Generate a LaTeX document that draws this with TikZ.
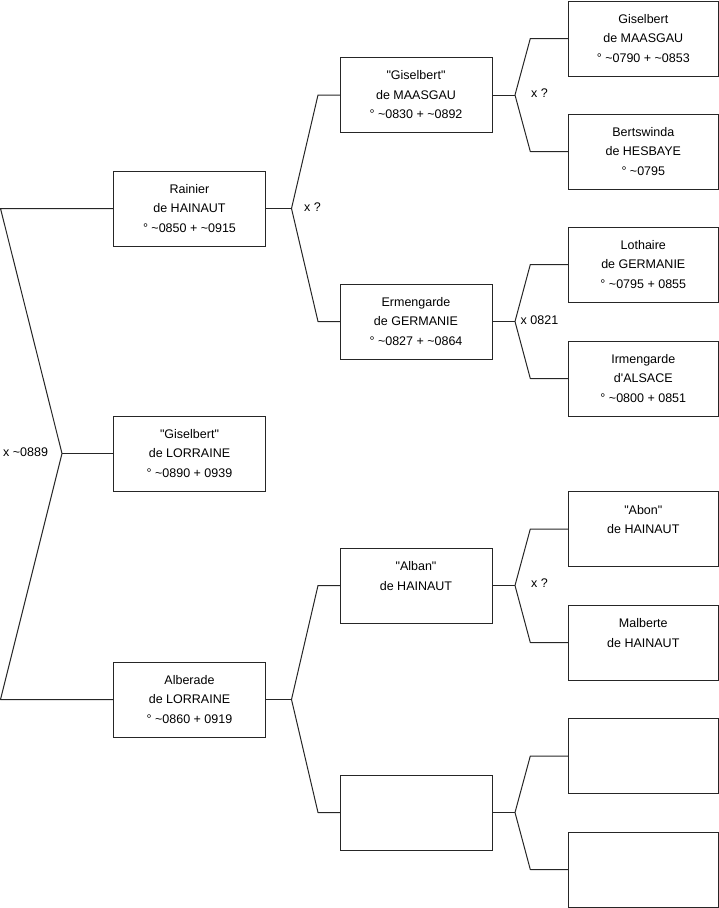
\documentclass[tikz,border=0pt]{standalone}
\usepackage{fontspec}
\setmainfont{Liberation Sans}
\begin{document}
\begin{tikzpicture}[x=1pt,y=-1pt,
  person/.style={draw=black!85, line width=1pt, fill=white, minimum height=75pt, inner sep=0pt, outer sep=0pt, align=center, font=\fontsize{12.5}{19.5}\selectfont},
  lvA/.style={person, minimum width=152pt},
  lvC/.style={person, minimum width=150pt},
  link/.style={draw=black!85, line width=1pt, line join=round},
  lbl/.style={anchor=west, inner sep=0pt, font=\fontsize{12.5}{15}\selectfont}]
\useasboundingbox (0,0) rectangle (719,908);
\newcommand{\tl}{\textasciitilde}
\newcommand{\qq}{\textquotedbl}
\newcommand{\blankline}{\\\mbox{}}
% level 1
\node[lvA] (r)  at (189.5,208.5) {Rainier\\de HAINAUT\\° \tl0850 + \tl0915};
\node[lvA] (gl) at (189.5,453.5) {\qq Giselbert\qq\\de LORRAINE\\° \tl0890 + 0939};
\node[lvA] (al) at (189.5,699.5) {Alberade\\de LORRAINE\\° \tl0860 + 0919};
% level 2
\node[lvA] (gm)  at (416,95)    {\qq Giselbert\qq\\de MAASGAU\\° \tl0830 + \tl0892};
\node[lvA] (er)  at (416,321.5) {Ermengarde\\de GERMANIE\\° \tl0827 + \tl0864};
\node[lvA] (alb) at (416,585.5) {\qq Alban\qq\\de HAINAUT\blankline};
\node[lvA] (e2)  at (416,812.5) {};
% level 3
\node[lvC] (g3)  at (643.3,38.5)  {Giselbert\\de MAASGAU\\° \tl0790 + \tl0853};
\node[lvC] (b3)  at (643.3,151.5) {Bertswinda\\de HESBAYE\\° \tl0795};
\node[lvC] (l3)  at (643.3,264.5) {Lothaire\\de GERMANIE\\° \tl0795 + 0855};
\node[lvC] (i3)  at (643.3,378.5) {Irmengarde\\d\textquotesingle ALSACE\\° \tl0800 + 0851};
\node[lvC] (ab3) at (643.3,529)   {\qq Abon\qq\\de HAINAUT\blankline};
\node[lvC] (m3)  at (643.3,642.5) {Malberte\\de HAINAUT\blankline};
\node[lvC] (e3)  at (643.3,756)   {};
\node[lvC] (e4)  at (643.3,869.5) {};
% left bracket
\coordinate (L1) at (0.5,208.5);
\coordinate (L0) at (62,453.5);
\coordinate (L2) at (0.5,699.5);
\draw[link] (r.west) -- (L1) -- (L0) -- (L2) -- (al.west);
\draw[link] (L0) -- (gl.west);
\node[lbl] (x0) at (3,452) {x \tl0889};
% level 1 -> 2
\coordinate (ar) at ([xshift=26pt]r.east);
\draw[link] (gm.west) -- ([xshift=-22pt]gm.west) -- (ar) -- ([xshift=-22pt]er.west) -- (er.west);
\draw[link] (r.east) -- (ar);
\node[lbl] (x1) at (304,207) {x ?};
\coordinate (aal) at ([xshift=26pt]al.east);
\draw[link] (alb.west) -- ([xshift=-22pt]alb.west) -- (aal) -- ([xshift=-22pt]e2.west) -- (e2.west);
\draw[link] (al.east) -- (aal);
% level 2 -> 3
\coordinate (agm) at ([xshift=23pt]gm.east);
\draw[link] (g3.west) -- ([xshift=-38pt]g3.west) -- (agm) -- ([xshift=-38pt]b3.west) -- (b3.west);
\draw[link] (gm.east) -- (agm);
\node[lbl] (x2) at (531,93) {x ?};
\coordinate (aer) at ([xshift=23pt]er.east);
\draw[link] (l3.west) -- ([xshift=-38pt]l3.west) -- (aer) -- ([xshift=-38pt]i3.west) -- (i3.west);
\draw[link] (er.east) -- (aer);
\node[lbl] (x3) at (520.5,320) {x 0821};
\coordinate (aalb) at ([xshift=23pt]alb.east);
\draw[link] (ab3.west) -- ([xshift=-38pt]ab3.west) -- (aalb) -- ([xshift=-38pt]m3.west) -- (m3.west);
\draw[link] (alb.east) -- (aalb);
\node[lbl] (x4) at (531,583) {x ?};
\coordinate (ae2) at ([xshift=23pt]e2.east);
\draw[link] (e3.west) -- ([xshift=-38pt]e3.west) -- (ae2) -- ([xshift=-38pt]e4.west) -- (e4.west);
\draw[link] (e2.east) -- (ae2);
\end{tikzpicture}
\end{document}
